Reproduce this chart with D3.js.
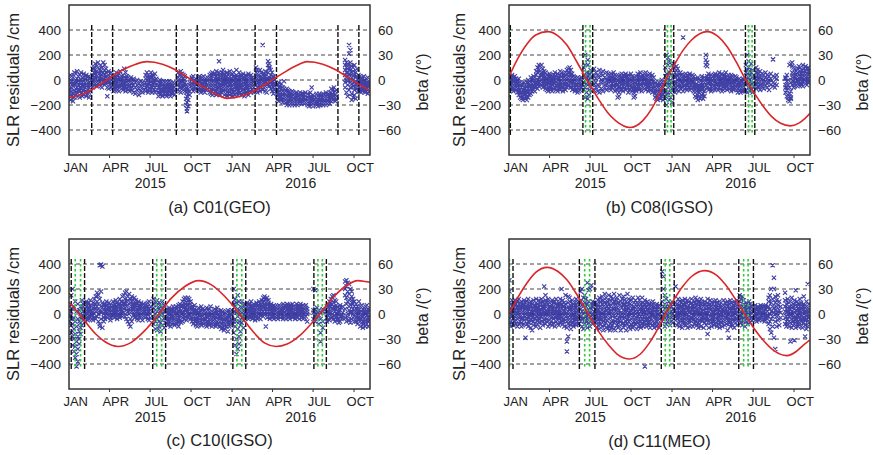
<!DOCTYPE html>
<html><head><meta charset="utf-8">
<script src="https://cdn.jsdelivr.net/npm/d3@7"></script>
<style>
body{margin:0;background:#fff}
svg{display:block}
text{font-family:"Liberation Sans",Arial,Helvetica,sans-serif;fill:#222}
</style>
</head><body>
<svg id="fig" width="873" height="455"></svg>
<script>
// Days are counted from 2015-01-01. Residual rows: [day, residual cm, residual cm, ...]
const residualsC01 = [
[0,-40,-100,10,-150,-70],[3,-20,-120,40,-80,-160],[6,-60,-10,-130,30,-90],[9,20,-50,-110,-170,-30],
[12,-30,60,-90,-10,-140],[15,-70,0,50,-120,-40],[18,10,-60,-100,70,-20],[21,-40,30,-130,-80,-10],
[24,-90,-20,40,-60,-140],[27,0,-70,60,-110,-30],[30,-50,20,-100,-20,-130],[33,-10,50,-80,-40,-120],
[36,-60,10,-100,30,-20],[39,-30,-90,40,-50,-130],[42,20,-40,-80,0,-110],[45,-20,-60,30,-100,-140],
[48,-50,10,-90,-30],[53,40,-10,-60,90,0],[56,100,20,-40,60,-20],[59,130,50,-30,10,80],
[62,70,-20,30,-50,110],[65,20,60,-30,-10,140],[68,-40,10,50,90,-20],[71,30,-50,0,70,120],
[74,0,-30,40,100,-60],[77,60,10,-20,140,30],[80,-10,40,80,-40,120],[83,20,-30,60,0,90],
[86,-60,10,30,-20,-130],[89,-20,40,0,-70,70],[92,10,-40,50,-10],[95,-30,20,-60,60],
[100,-20,30,-60,10,-90],[103,0,-40,40,-80,-20],[106,-50,20,-10,60,-70],[109,10,-30,-80,30,-50],
[112,-40,0,50,-90,-20],[115,-10,-60,20,-30,70],[118,-70,30,-20,-50,0],[121,-20,-80,10,40,-40],
[124,20,-50,90,-10,-60],[127,-30,10,-70,60,-90],[130,-60,-20,30,-40],[133,0,-80,-30,20],
[136,-50,10,-90,-20],[139,-30,-70,20,-10],[142,-80,-20,0,-60],[145,-40,-100,10],
[149,-20,-60,-110],[153,0,-80,-40],[157,-70,-30,-120],[161,-10,-90,-50],[165,-60,-20,-100],[169,-30,-80],
[172,40,-20,-60,10,-90],[175,-40,60,0,-80,20],[178,10,-50,-100,40,-20],[181,-30,30,-70,0,-90],
[184,60,-10,-50,20,-80],[187,-60,0,40,-30,-100],[190,-20,30,-80,-40,10],[193,0,-60,-20,50,-100],
[196,-40,-90,10],[201,-60,-100,-20,-130,-40],[204,-80,-30,-120,-60,0],[207,-50,-110,-10,-90,-70],
[210,-90,-40,-130,-60,-20],[213,-30,-70,-110,-10,-80],[216,-100,-50,-20,-120,-60],[219,-60,-130,-30,-90,-10],
[222,-80,-40,-110,-60,-20],[225,-40,-100,-70,-120,-10],[228,-90,-20,-60,-130,-50],[231,-50,-110,-80,-30],
[234,-70,-20,-100,-40],[237,-30,-90,-60,-120],[245,20,-40,60,-80,-10],[248,-20,40,-60,10,-90],
[251,-50,0,70,-30,-100],[254,30,-70,-10,50,-40],[257,-30,10,-80,40,-60],[260,0,-50,30,-90,-20],
[263,-100,-150,-60,-200,-40],[265,-130,-250,-180,-80,-230],[268,-70,-160,-110,-210],[271,-40,-90,-20,-120],
[276,-30,10,-70,-50,20],[279,-60,-10,-90,30,-40],[282,-20,-80,0,-50],[285,10,-40,-70,-20],
[290,-50,0,-80,20,-30],[293,-20,-60,30,-90,-10],[296,-70,-30,10,-50,-100],[299,0,-40,-80,20,-20],
[302,-60,-10,-90,-40,30],[305,-30,-70,0,-50,-100],[308,-80,-20,10,-60],[311,-40,20,-70,-10],
[316,-20,40,-60,0,-100,20],[319,10,-50,-110,50,-30,-80],[322,-60,30,-20,-90,60,-120],[325,-30,0,-70,40,-110,-10],
[328,50,-40,-90,10,-20,-60],[331,-10,-70,30,-120,0,70],[334,-50,20,-30,-100,40,-80],[337,0,-60,150,-20,60,-110],
[340,-80,10,-40,30,-120,-10],[343,20,-20,-70,60,-100,-50],[346,-40,40,0,-90,-30,80],[349,-70,-10,50,-120,10,-50],
[352,10,-80,-30,30,-60,-110],[355,-20,60,-100,-50,0,-130],[358,-60,0,40,-80,-20,-110],[361,30,-40,-90,-10,70,-120],
[364,-30,10,-60,-110,40,-80],[367,-80,-20,50,0,-50,-130],[370,0,-60,-100,30,-30,60],[373,-50,20,-20,-90,-120,10],
[376,-10,-70,40,-40,-100,80],[379,-90,-30,10,-60,-120,30],[382,20,-50,-80,0,60,-110],[385,-40,0,-70,40,-20,-100],
[388,-60,30,-10,-120,-40,10],[391,-20,-80,50,-50,0,-100],[394,10,-40,-90,20,-60,-130],[397,-70,-10,40,-30,-110,0],
[400,-30,30,-60,-100,10,-50],[403,0,-80,-20,50,-120,-40],[406,-50,10,-90,-30,30],[409,-20,-60,0,-100,40],
[412,-80,-30,20,-50],[415,-10,-60,-100,10],[420,20,-40,60,-80,0,100],[423,-20,50,-60,10,-100,80],
[426,40,-10,-70,20,-40],[429,-50,10,80,-30,-90],[432,0,-60,30,-20,60],[435,280,-30,20,-80,40],
[438,-60,0,50,-40,10],[441,30,-20,-90,70,-50],[444,-40,10,-10,-100,40],[447,120,150,60,-30,10],
[450,90,130,20,-50,100],[453,-20,40,0,-70,80],[456,10,-40,60,-90,-10],[459,-60,20,-30,-110,30],[462,-30,0,-80,-50],
[468,-80,-120,-40,-160,-100],[471,-60,-140,-100,-20,-170],[474,-110,-50,-150,-90,-130],[477,-70,-130,-30,-100,-160],
[480,-120,-60,-180,-90,-140],[483,-10,-100,-150,-70,-130],[486,-140,-90,-180,-110,-160],[489,-100,-170,-130,-70,-200],
[492,-160,-110,-190,-140,-80],[495,-120,-180,-90,-150,-200],[498,-170,-130,-100,-190,-150],[501,-110,-160,-200,-130,-90],
[504,-150,-190,-120,-170,-100],[507,-180,-130,-160,-110,-200],[510,-140,-100,-170,-190,-120],[513,-160,-120,-200,-140,-180],
[516,-110,-150,-190,-130,-170],[519,-170,-140,-100,-180,-120],[522,-130,-190,-150,-110,-160],[525,-160,-110,-180,-140],
[528,-120,-170,-140,-190],[531,-150,-100,-130],[536,-140,-180,-110,-200],[539,-170,-120,-210,-150],
[542,-130,-190,-160,-100],[545,-160,-200,-140,-60],[548,-120,-170,-190,-210],[551,-150,-180,-130],
[556,-140,-170,-200,-110,-180],[559,-180,-130,-160,-210,-150],[562,-110,-170,-200,-140,-190],[565,-160,-120,-180,-150,-200],
[568,-190,-140,-170,-120,-160],[571,-130,-200,-150,-180,-110],[574,-170,-120,-190,-140,-160],[577,-150,-180,-100,-200,-130],
[580,-120,-160,-140,-190,-170],[583,-180,-130,-110,-150],[586,-100,-160,-190,-130],[589,-140,-70,-120,-170],
[592,-110,-160,-80,-140],[595,-150,-100,-130,-60],[598,-90,-140,-120,-170],[601,-130,-80,-160],
[620,120,40,-20,80,-60,160],[623,60,140,0,-100,100,20],[626,-40,90,30,-130,130,-10],[629,280,210,100,-80,50,0],
[632,240,80,-20,140,-60,30],[635,20,110,-110,60,-30,-160],[638,-50,70,0,-140,100,30],[641,40,-80,120,-20,-120],
[644,-10,60,-60,20,-150],[647,-70,30,-30,90,-100],[650,-20,-60,10,-90,40],[653,-40,0,-80,-20,30],
[656,-10,-70,-40,20,-100],[659,-60,10,-30,-90,-50],[662,-20,-80,30,-50,-10],[665,-70,-30,0,-100,-40],
[668,-40,10,-60,-90,-20],[671,-80,-30,-50,20,-110],[674,-50,-10,-90,-30]
];
const residualsC08 = [
[1,-20,20,-60,-90,10],[4,0,-40,30,-70,-10],[7,-50,10,-30,-80,40],[10,-10,-60,20,-40,-90],
[13,30,-30,-70,0,-50],[16,-40,10,-20,-80,-60],[19,-70,-10,-100,-40,0],[22,-30,-90,-60,-120,10],
[25,-80,-20,-110,-50,-140],[28,-100,-60,-150,-30,-120],[31,-130,-80,-40,-160,-100],[34,-60,-140,-100,-20,-120],
[37,-110,-70,-150,-40,-90],[40,-90,-130,-50,-160,-20],[43,-40,-100,-70,-140,0],[46,-80,-30,-120,-60,-10],
[49,-20,-70,-110,-50,20],[52,-50,0,-90,-30,-70],[55,10,-40,-80,-20,30],[58,-30,20,-60,0,-90],
[61,40,-10,-50,70,-30],[64,0,60,-40,100,-70],[67,80,20,-20,120,-50],[70,110,40,-10,70,-30],
[73,60,120,0,-40,30],[76,20,90,-30,50,-60],[79,-10,40,70,-50,0],[82,30,-20,60,-70,10],
[85,-40,10,-80,40,-20],[88,0,-60,30,-30,-90],[91,-30,20,-70,50,-10],[94,10,-50,-20,40,-80],
[97,-60,0,30,-40,-90],[100,-20,40,-70,-10,20],[103,20,-30,60,-60,0],[106,-40,10,-80,30,-20],
[109,0,50,-50,-90,20],[112,-30,20,-70,10,-60],[115,40,-10,-40,70,-80],[118,-20,30,0,-60,60],
[121,10,-50,40,-30,-90],[124,50,-20,20,-70,0],[127,-10,60,-40,30,-80],[130,80,20,-30,50,-60],
[133,30,90,-10,60,-50],[136,60,0,100,-40,20],[139,-20,40,80,-60,10],[142,20,-40,50,-80,-10],
[145,-30,10,-70,30,-50],[148,0,-60,20,-90,-20],[151,-50,-10,-80,10,-40],[154,-20,20,-60,-100,0],
[157,-70,-30,10,-50,-90],[160,-40,0,-80,-20],[163,-10,-60,20,-40],
[168,40,-20,-80,100],[171,200,-60,20,-140,120],[174,-30,60,-100,10],[177,120,-150,-40,30,160],
[180,0,-80,50,-120],[183,-50,80,-20,20],[186,20,-90,-40,60],[191,-30,30,-80,90],[195,10,-60,60,-20],
[199,-90,40,-40],[203,20,-50,80,-100],[207,-20,50,-70,0],[211,40,-10,-90,70],[215,-40,20,-60],[219,0,60,-30,-80],
[223,30,-20,50,-60,0],[226,-10,40,-50,10,-70],[229,20,-40,-10,50,-80],[232,-30,10,40,-60,0],
[235,0,-50,30,-20,60],[238,-60,20,-30,40,-90],[241,10,-20,-70,30,-40],[244,-40,0,-140,-80,20],
[247,-100,-20,30,-60,-130],[250,-10,40,-50,0,-80],[253,20,-30,50,-70,-10],[256,-50,10,-20,40,-90],
[259,0,-60,30,-40,20],[262,-30,50,-10,-80,10],[265,30,-40,0,-70,-20],[268,-20,20,-60,40,-100],
[271,10,-50,30,-30,-80],[274,-60,0,-20,50,-40],[277,-30,30,-90,-10,-60],[280,-100,-140,-40,10,-70],
[283,-130,-80,-20,20,-50],[286,-40,10,-60,30,-90],[289,0,-30,50,-70,20],[292,-20,40,-50,0,-80],
[295,30,-10,-40,60,-60],[298,-50,20,-20,-90,10],[301,10,-60,40,-30,-10],[304,-30,0,50,-70,30],
[307,20,-40,-10,60,-80],[310,-60,10,-30,30,-20],[313,0,-50,40,-90,20],[316,-20,30,-70,-10,50],
[319,-40,0,-80,20,-60],[322,10,-30,-100,40,-50],[325,-70,-10,-40,20,-90],[328,-60,-110,-20,-140,-80],
[331,-100,-40,-150,-70,-120],[334,-30,-90,-130,-60,-160],[337,-120,-50,-100,-140,-20],[340,-80,-150,-40,-110,-60],
[343,-20,-100,-70,-130,0],[346,-90,-40,-120,-60,-160],
[351,100,-40,-150,30,-90],[354,-120,200,-20,50,-200],[357,120,-60,180,-100,10],[360,-30,60,-160,-50,150],
[363,40,-100,0,-140,80],[366,-70,120,-20,-180],
[370,30,100,-40,130,-80],[373,-10,60,-60,20,-100],[376,80,-30,40,-80,110],[379,0,-50,90,-20,30],
[382,-60,20,-90,50,-10],[385,10,-40,60,-70,-20],[388,-30,20,-50,0,40],[391,340,-10,30,-60,-90],
[394,-20,40,-70,10,-40],[397,20,-30,50,-60,0],[400,-50,10,-20,40,-80],[403,0,-60,30,-40,-10],
[406,-30,20,-80,50,-60],[409,30,-40,0,-70,10],[412,-10,40,-60,-20,20],[415,-60,-20,30,-90,-40],
[418,-40,-100,10,-60,-130],[421,-90,-30,-140,-60,0],[424,-50,-120,20,-80,-160],[427,10,-70,-130,-40,-100],
[430,-30,-90,-150,0,-60],[433,-80,-20,-120,30,-50],[436,-110,-40,10,-150,-70],[439,-60,20,-90,-20,-130],
[442,200,160,120,-40,10],[445,110,140,-60,30,-20],[448,-10,50,-80,-30,20],[451,30,-40,0,-70,-10],
[454,-50,10,-20,40,-90],[457,0,-60,30,-30,-80],[460,-20,40,-50,10,-70],[463,20,-30,-80,50,0],
[466,-40,10,-60,-10,30],[469,0,-50,40,-80,-20],[472,-60,20,-30,60,-10],[475,30,-10,-70,0,-40],
[478,-20,50,-40,-90,10],[481,10,-60,30,-20,-80],[484,-40,0,-70,40,-30],[487,20,-30,60,-50,-10],
[490,-50,10,-20,-80,30],[493,0,-40,40,-60,-20],[496,-30,20,-70,10,-50],[499,40,-10,-40,0,-90],
[502,-20,30,-60,-30,10],[505,-60,0,20,-80,-40],[508,10,-50,-20,30,-70],[511,-40,-10,-80,20,-60],
[514,-20,-70,0,-40,-100],[517,-80,-30,10,-60,-20],[520,-50,-100,-30,0,-70],[523,-10,-60,-90,-40,-20],
[526,-70,-30,-50,10,-90],
[532,60,-40,120,-80,10],[535,200,-20,50,-100,80],[538,-60,150,20,-30,100],[541,40,-90,0,70,-50],
[544,-30,130,60,-10,-70],[547,80,-50,20,-100,30],[550,-20,40,-60,10],
[555,60,-30,20,100,-70],[558,-10,40,-50,80,10],[561,30,-60,0,50,-20],[564,-40,20,70,-80],
[568,10,-30,50,-50],[572,-20,40,0,-70],[576,60,-40,20,-10],[580,-60,10,-30,40],[584,0,30,-20,-80],
[588,-40,10,50],[593,165,-20,30,-50],[597,-30,20,-60],[601,10,-40,40],
[621,20,-40,-100,10,-60],[624,-60,-10,-130,40,-80],[627,-120,-160,-40,0,-140],[630,-170,-130,-110,120,-60],
[633,-150,-90,130,-20,-140],[636,140,110,20,-40,60],[639,100,-10,50,-60,30],[642,-30,60,10,-50,90],
[645,20,-40,70,-20,40],[648,60,0,-30,90,-50],[651,-10,40,110,-40,20],[654,30,-20,70,0,100],
[657,-40,50,10,-30,80],[660,20,-10,60,120,-50],[663,90,30,-20,50,0],[666,-30,70,20,110,-10],
[669,50,0,90,-40,30],[672,10,70,-20,40,100],[675,60,-10,30,80]
];
const residualsC10 = [
[2,60,-20,30,-60,-10],[5,-40,20,-90,150,-150],[8,200,-80,-180,40,-250],[11,-120,-300,60,-200,-30],
[14,-350,-60,100,-160,-260],[17,-420,-100,20,-220,-320],[20,-40,-280,-180,80,-380],[23,-140,-240,30,-60,-200],
[26,0,-110,-160,60,-70],[29,-30,40,-90,110,-20],[32,80,-50,20,-10,60],[36,40,-20,90,0,-60],
[39,10,60,-30,100,30],[42,-20,40,80,0,-50],[45,50,-10,20,90,-40],[48,0,70,-30,30,110],
[51,30,-40,60,10,-20],[54,-10,50,90,-50,20],[57,60,0,120,30,-30],[60,20,-40,80,140,40],
[63,100,30,-20,60,170],[66,-60,40,150,0,80],[69,390,120,-80,30,-100],[72,395,60,-40,10,180],
[75,380,90,-110,20,50],[78,30,-30,70,0,-60],[81,-10,50,20,-40,80],[84,40,-20,60,0,100],
[87,10,70,-30,30,-10],[90,50,0,90,-20,20],[93,-30,40,10,70,-50],[96,20,60,-10,30,0],
[99,70,-20,40,10,100],[102,0,50,-30,80,20],[105,30,-10,60,0,110],[108,-20,40,10,90,-40],
[111,50,0,70,20,-10],[114,10,80,-30,40,120],[117,60,20,100,-10,40],[120,30,70,0,140,-20],
[123,90,40,150,10,60],[126,50,120,-20,80,170],[129,100,30,180,60,-40],[132,20,140,70,-60,110],
[135,80,-80,160,40,0],[138,-100,120,30,90,-40],[141,60,-60,100,20,140],[144,110,40,-10,80,60],
[147,20,70,130,0,-30],[150,90,-20,50,30,110],[153,40,80,0,-40,60],[156,-10,50,100,20,-50],
[159,60,10,-30,70,30],[162,20,-20,40,90,0],[165,70,30,-50,10,50],[168,0,60,-20,40,80],
[171,40,-30,20,70,-10],[174,-20,50,10,80,30],[177,60,0,90,-40,20],[180,20,-50,40,100],[183,-30,60,0,30],
[190,50,-80,120,-30,80],[194,-120,30,100,-60,0],[198,70,-40,20,-130,110],[202,-20,90,-100,40,-60],
[206,30,-70,60,-10,-140],[210,-50,100,0,-90,50],[214,20,-30,70,-110],
[219,-30,20,-70,40,-50],[222,0,-60,30,-90,-20],[225,-40,10,-80,50,-10],[228,20,-50,-20,-100,30],
[231,-60,0,40,-30,-80],[234,-10,-70,20,-50,60],[237,30,-40,-90,0,-20],[240,-50,10,-30,60,-70],
[243,0,-80,40,-20,-60],[246,-30,20,-60,70,-100],[249,40,-10,-50,10,80],[252,-20,60,0,-70,30],
[255,70,-30,20,100,-60],[258,10,90,-40,50,120],[261,80,130,30,-20,60],[264,120,40,-50,90,10],
[267,20,110,70,-30,130],[270,90,-10,50,120,0],[273,40,80,-40,20,100],[276,-20,60,10,-60,30],
[279,50,-30,-80,20,-10],[282,0,40,-60,-20,70],[285,-40,20,-90,10,-60],[288,30,-50,0,-100,-20],
[291,-70,10,-30,50,-90],[294,-10,-60,30,-40,-80],[297,20,-30,-90,0,60],[300,-50,10,-20,-70,40],
[303,-80,-30,20,-60,0],[306,10,-90,-40,30,-70],[309,-20,50,-60,-10,-100],[312,-60,0,30,-80,-30],
[315,40,-40,-10,-90,20],[318,-30,10,-70,60,-50],[321,0,-60,20,-100,-20],[324,-90,-30,-70,10,-50],
[327,-40,20,-80,-10,40],[330,-70,-20,30,-100,0],[333,10,-60,-30,50,-90],[336,-50,0,-80,-20,20],
[339,-20,-100,10,-60,-40],[342,30,-50,-80,0,-120],[345,-60,-10,-110,20,-30],[348,-90,-40,0,-70,-130],
[351,-30,-120,10,-60,-80],[354,-100,-50,20,-20,-70],[357,-10,-80,-140,-40,30],[360,-60,10,-30,-100,-20],
[363,20,-40,-70,0,-90],[366,-50,-10,30,-60],
[370,200,-60,80,-150,20],[373,-40,120,-250,60,-100],[376,90,-200,10,-320,-60],[379,-120,40,-20,-280,150],
[382,30,-180,-60,100,-240],[385,-90,60,0,-140,20],[388,50,-30,100,-70],[392,-50,20,-110,70,0],[396,10,80,-40,-20,40],
[400,30,-20,60,0,90],[403,-10,50,20,-40,70],[406,40,0,80,-30,20],[409,10,60,-20,40,100],
[412,70,-10,30,0,-40],[415,20,50,-30,80,10],[418,-20,40,60,0,-50],[421,50,10,90,-20,30],
[424,0,70,-40,20,60],[427,30,-30,50,0,100],[430,-10,80,20,60,-40],[433,60,0,40,110,10],
[436,20,90,-20,50,130],[439,100,40,140,0,70],[442,-100,60,120,20,90],[445,50,130,10,80,-30],
[448,90,20,60,-20,110],[451,30,70,0,40,-40],[454,-20,50,20,80,0],[457,60,10,-30,30,50],
[460,10,40,-10,70,-40],[463,40,-20,60,0,20],[466,-30,30,10,50,-10],[469,20,60,-40,0,40],
[472,50,0,30,-20,70],[475,-10,40,10,60,-30],[478,30,-20,50,0,20],[481,0,60,-40,30,80],
[484,40,10,-10,70,20],[487,-20,50,30,-40,0],[490,60,0,40,-10,80],[493,20,-30,60,10,40],
[496,-10,40,0,70,-40],[499,30,70,-20,20,50],[502,0,50,10,-30,80],[505,40,-10,60,20,-20],
[508,10,30,-40,50,0],[511,60,-20,20,80,40],[514,-30,40,0,60,10],[517,20,70,-10,30,-40],
[520,50,0,40,80,20],[523,-20,60,10,-30,30],[526,30,-40,70,0,50],[529,0,40,20,60,-30],
[532,50,10,-20,30,70],[535,-60,20,40,0],
[549,200,10,-40,30],[553,190,-20,40,-60],[557,0,50,-30,20],[561,-80,30,-10],[565,-150,-220,10,-40],[570,-60,20,-110,40],
[579,20,-30,60,0,-60],[582,50,-10,80,20,-40],[585,0,100,-50,40,70],[588,60,120,10,-30,90],
[591,-20,40,140,80,0],[594,90,30,150,-40,60],[597,50,-60,110,20,-10],[600,-30,70,0,40,100],
[603,20,-50,60,-20],[606,-70,10,40,-40],[609,30,-20,-60,70],[612,-40,0,50,-10],[615,10,-30,60],
[620,260,150,40,-30,200],[623,220,80,270,-60,130],[626,180,250,0,100,-20],[629,240,60,160,-50,30],
[632,120,200,-70,70,10],[635,20,140,-40,90,180],[638,80,-30,40,120,0],[641,-20,60,100,-60,30],
[645,40,-30,80,-60,10],[648,-10,60,-80,20,-40],[651,30,-50,0,100,-20],[654,-60,10,60,-30,-100],
[657,20,-40,70,0,-70],[660,-20,40,-60,10,-110],[663,50,-10,-80,30,-40],[666,0,60,-50,-100,20],
[669,-40,20,-10,70,-80],[672,10,-60,40,-30,-100],[675,-20,30,-50]
];
const residualsC11 = [
[1,270,180,40,-30,90,-80],[4,20,-60,80,0,-100,50],[7,-20,60,110,-70,30,0],[10,50,-40,10,90,-90,-10],
[13,-60,30,-20,70,110,0],[16,80,-10,40,-80,20,-50],[19,0,100,-40,60,-100,30],[22,-30,50,-80,10,120,-10],
[25,40,-60,90,-20,20,70],[28,-70,10,60,-40,100,-100],[31,20,-30,80,0,-90,50],[34,-50,110,30,-10,70,-80],
[37,-190,60,-20,40,0,90],[40,30,-80,10,100,-40,60],[43,-20,50,-60,20,120,-100],[46,70,0,-30,90,-70,40],
[49,-10,-110,60,20,-50,100],[52,-130,40,0,80,-30,10],[55,50,-60,110,-20,30,-90],[58,-40,20,70,-80,0,60],
[61,90,-20,40,-100,10,120],[64,0,60,-50,30,-80,80],[67,-70,110,20,-30,50,-10],[70,40,-40,90,0,-110,70],
[73,-20,80,10,-60,120,30],[76,60,-90,-10,50,0,100],[79,220,20,-50,80,-20,40],[82,-30,150,60,-80,10,110],
[85,10,-60,90,30,-40,70],[88,80,-10,40,-100,120,0],[91,-50,60,0,20,-80,90],[94,30,-30,100,-60,50,10],
[97,-90,70,-20,40,0,110],[100,60,-40,20,-70,90,-10],[103,-20,100,50,0,-100,30],[106,40,-60,80,-30,10,120],
[109,-80,20,60,-10,-50,70],[112,10,90,-40,40,-90,0],[115,120,-20,70,-70,30,-10],[118,-50,40,0,200,-30,80],
[121,30,-80,110,10,-60,60],[124,-10,60,-40,90,-100,20],[127,80,0,150,-50,40,-20],[130,-110,-220,-300,50,-60,10],
[133,140,-30,90,-80,20,-180],[136,-60,40,-10,100,-40,130],[139,20,-90,60,0,-120,70],[142,-40,110,30,-70,10,-20],
[145,60,-10,-50,80,-100,0],[148,-80,30,90,-30,50,-60],[151,10,-40,70,-90,120,20],[154,-20,60,0,-60,30,90],
[157,50,-30,100,-10,-80],
[161,100,-60,40,-20,180],[164,-100,20,200,-40,70],[167,60,-30,-120,130,0],[170,-50,90,20,-80,150],
[173,10,-60,60,120,-20],[176,250,-40,80,0,-110],[179,30,190,-70,100,-10],[182,-60,50,10,-100,200],
[185,80,-20,230,40,-50],[188,-30,60,0,-80,100],[191,20,-50,90,-20],
[194,40,-30,90,-70,10,60],[197,-60,20,-110,50,-20,80],[200,0,70,-40,110,-90,30],[203,-30,50,130,-60,10,-120],
[206,60,-80,20,-10,100,-50],[209,-100,30,-40,80,0,140],[212,20,-60,60,-130,110,-10],[215,-40,90,10,-90,50,160],
[218,80,-20,130,-70,30,-110],[221,-10,60,-120,100,-50,10],[224,150,-40,40,-100,80,0],[227,-80,20,110,-30,60,-130],
[230,30,-110,70,10,-60,140],[233,-50,90,-20,120,0,-90],[236,100,-70,40,-10,160,-120],[239,-30,60,-130,80,20,-60],
[242,10,-90,110,-40,50,130],[245,-110,40,0,90,-70,20],[248,70,-30,150,-100,30,-50],[251,-60,100,10,-130,60,-10],
[254,120,-20,50,-80,0,90],[257,-40,30,-110,70,140,-70],[260,20,-90,80,-30,110,0],[263,-130,60,-10,100,-60,40],
[266,90,0,-80,30,-40,160],[269,-20,120,50,-100,10,-60],[272,60,-50,-10,80,-120,30],[275,-90,20,110,-40,70,0],
[278,40,-70,10,130,-30,-110],[281,-10,90,-60,40,-100,60],[284,110,-30,20,-80,50,0],[287,-60,60,-120,10,90,-40],
[290,20,-20,80,-70,130,-100],[293,-40,40,-90,110,0,60],[296,80,-60,20,-20,-110,50],[299,130,-40,60,0,-80,30],
[302,-20,90,-60,40,-100,10],[305,-420,20,-30,70,-70,110],[308,50,-50,0,90,-20,-100],[311,-70,30,100,-40,60,-10],
[314,10,-90,50,-20,80,-60],[317,-30,60,-80,20,-110,40],[320,90,0,-50,70,-10,30],[323,-60,40,-20,100,-90,10],
[326,20,-30,60,-70,0,-110],[329,-80,70,10,-40,50,-10],[332,40,-20,-100,30,-60,80],[335,-10,60,0,-80,20,-50],
[338,50,-40,-110,10,70,-20],
[344,340,20,-60,100,-20],[347,300,-40,60,0,200],[350,-30,150,-100,40,80],[353,60,-20,10,-80,120],
[356,-10,40,-60,20],[359,100,-50,30,-10,60],[362,-40,0,80,-90],[365,20,-30,60,-60],[368,-70,40,0,90],
[374,220,30,-50,90,-20,60],[377,-40,80,10,-90,50,0],[380,60,-20,120,30,-70,-10],[383,-30,40,-100,70,10,100],
[386,90,0,50,-60,-20,30],[389,-70,110,20,-30,60,-110],[392,10,-50,80,0,-80,40],[395,-20,70,-40,120,30,-60],
[398,50,-90,10,-10,90,-30],[401,-60,30,-110,60,0,110],[404,100,-20,40,-70,70,10],[407,-30,80,-50,20,-100,50],
[410,0,-60,120,-30,40,90],[413,70,-100,30,-10,60,-50],[416,-40,50,-80,100,10,-20],[419,20,-30,130,-60,80,0],
[422,-90,60,0,40,-40,110],[425,30,-70,90,-10,20,-110],[428,-20,100,-50,60,-80,10],[431,80,0,40,-100,120,-30],
[434,-50,70,-20,20,-60,90],[437,10,-110,60,-40,30,0],[440,-30,50,100,-70,-10,80],[443,60,-20,10,-90,40,-50],
[446,-160,90,-40,30,0,120],[449,20,-60,70,-110,50,-10],[452,-50,30,-20,80,-70,110],[455,90,-30,40,0,-100,60],
[458,-10,80,-60,20,-40,10],[461,40,-90,100,-20,60,-60],[464,-70,20,0,110,-30,50],[467,30,-40,70,-100,10,90],
[470,-20,60,-80,40,-10,-60],[473,100,0,20,-50,70,-110],[476,-40,50,-20,90,-70,10],[479,60,-100,30,-30,40,0],
[482,-10,70,-60,110,-40,20],[485,30,-30,90,0,-90,60],[488,-80,40,-10,70,10,-40],[491,-130,20,-50,100,-20,60],
[494,-190,-70,40,0,80,-30],[497,50,-20,110,-60,10,-100],[500,-30,60,0,30,-80,90],[503,20,-50,70,-10,40,-90],
[506,-60,10,-30,100,-110,50],[509,80,-40,30,-70,0,60],[512,-10,50,-90,20,-40,110],
[518,150,-50,60,-10,100],[521,-30,120,20,-70,50],[524,60,-90,0,140,-20],[527,-60,30,110,-40,80],
[530,20,-20,60,-100,0],[533,-40,90,10,-60,40],[536,70,-10,-80,30,-30],[539,-20,50,0,-50,100],
[542,40,-70,20,80,-10],[545,-50,10,60,-30],
[550,20,-40,60,-10,40],[553,-30,50,0,-50,70],[556,40,-20,30,-60,10],[559,-10,60,-40,20,-30],
[562,50,0,-50,40,-20],[565,-40,30,70,-10,10],[568,10,-50,40,-30,60],[571,-20,60,0,-40,30],
[574,60,-10,-60,20,-30],[577,-30,40,10,-50,70],[580,20,-20,50,-10],
[583,60,-80,130,-20,100],[586,-120,40,150,-60,0],[589,200,-40,90,-150,20],[592,390,120,-20,60,-100],
[595,290,200,-190,50,10],[598,140,-60,90,-280,30],[601,-20,110,0,-100,60],[604,70,-50,150,20,-10],
[607,-90,30,100,-40],[610,10,-30,60],
[620,170,-30,60,-80,20,110],[623,-60,40,-100,10,80,-20],[626,30,-90,120,-40,50,0],[629,-100,60,-20,90,-60,20],
[632,-220,10,-70,40,-10,100],[635,50,-40,130,-110,20,-20],[638,-30,80,0,-60,60,-90],[641,-210,-30,40,110,-80,10],
[644,190,-50,70,-20,30,-110],[647,-10,60,-80,20,100,-40],[650,40,-100,10,80,-30,-60],[653,-70,30,-20,120,0,60],
[656,20,-60,90,-40,50,-100],[659,-40,10,-110,60,-10,30],[662,80,-30,40,-70,140,0],[665,-180,50,-50,20,-90,70],
[668,10,-120,60,-20,100,-40],[671,240,-60,30,-100,0,50],[674,-30,80,-70,20,-10]
];

// Sun elevation above the orbital plane: [day, beta in degrees]
const betaC01 = [[0,-21],[30,-17],[60,-9],[90,2],[120,12],[150,19],[175,22],[210,19],[240,12],[270,2],[300,-8],[330,-17],[355,-22],[390,-19],[420,-12],[450,-2],[480,8],[510,17],[535,22],[570,19],[600,12],[630,2],[660,-8],[676,-13]];
const betaC08 = [[0,4],[20,26],[40,43],[60,54],[87,58],[110,53],[130,42],[150,24],[175,0],[200,-22],[220,-38],[240,-49],[272,-57],[300,-49],[320,-35],[340,-14],[352,0],[370,17],[390,35],[410,48],[445,58],[470,52],[490,40],[510,22],[532,0],[550,-15],[570,-31],[590,-44],[610,-52],[632,-55],[650,-52],[665,-46],[676,-40]];
const betaC10 = [[0,14],[23,0],[60,-24],[80,-33],[110,-39],[140,-34],[170,-20],[202,0],[230,19],[260,33],[291,40],[320,35],[350,21],[383,0],[410,-19],[440,-35],[465,-39],[490,-36],[520,-25],[545,-11],[563,0],[590,18],[620,33],[649,40],[665,39],[676,38]];
const betaC11 = [[0,0],[20,20],[40,37],[60,50],[86,56],[110,51],[130,41],[155,21],[178,0],[200,-20],[225,-38],[245,-49],[271,-54],[295,-48],[315,-35],[335,-17],[351,0],[370,17],[390,33],[410,45],[439,52],[465,47],[485,36],[507,19],[529,0],[550,-17],[570,-31],[595,-44],[624,-50],[645,-45],[660,-38],[676,-31]];

// Eclipse season boundaries (black) and yaw-manoeuvre days (green), as day numbers
const boundsC01 = [51,98,241,288,418,466,604,651];
const yawC01 = [];
const boundsC08 = [3,166,188,350,370,531,552];
const yawC08 = [1,172,182,356,364,538,546];
const boundsC10 = [5,35,188,217,368,397,550,578];
const yawC10 = [14,26,197,208,377,388,559,569];
const boundsC11 = [9,158,193,342,371,516,549];
const yawC11 = [1,170,181,351,361,527,537];

const residualTicks = [-400,-200,0,200,400];
const betaTicks = [-60,-30,0,30,60];
const monthNames = ["JAN","APR","JUL","OCT"];
const years = [2015,2016];

const panels = [
  {title:"(a) C01(GEO)", rows:residualsC01, beta:betaC01, bounds:boundsC01, yaw:yawC01, x0:69, y0:5, ylab:18.5, tb:213},
  {title:"(b) C08(IGSO)", rows:residualsC08, beta:betaC08, bounds:boundsC08, yaw:yawC08, x0:509, y0:5, ylab:464.5, tb:213},
  {title:"(c) C10(IGSO)", rows:residualsC10, beta:betaC10, bounds:boundsC10, yaw:yawC10, x0:69, y0:239, ylab:18.5, tb:446},
  {title:"(d) C11(MEO)", rows:residualsC11, beta:betaC11, bounds:boundsC11, yaw:yawC11, x0:509, y0:239, ylab:464.5, tb:447}
];

const W = 301, H = 150;
const t0 = Date.UTC(2015,0,1);
const dayDate = d => new Date(t0 + d*864e5);
const x = d3.scaleUtc().domain([dayDate(0), dayDate(676)]).range([0, W]);
const y = d3.scaleLinear().domain([-600, 600]).range([H, 0]);
const yb = d3.scaleLinear().domain([-90, 90]).range([H, 0]);

const svg = d3.select("#fig");
const defs = svg.append("defs");
const FONT = "Liberation Sans, Arial, sans-serif";

panels.forEach((p, i) => {
  const g = svg.append("g").attr("transform", `translate(${p.x0},${p.y0})`);
  defs.append("clipPath").attr("id", "clip" + i)
    .append("rect").attr("width", W).attr("height", H);
  const plot = g.append("g").attr("clip-path", `url(#clip${i})`);

  // horizontal dashed grid
  plot.selectAll("line.grid").data(residualTicks).join("line")
    .attr("x1", 0).attr("x2", W)
    .attr("y1", d => y(d)).attr("y2", d => y(d))
    .attr("stroke", "#444").attr("stroke-width", 1).attr("stroke-dasharray", "4,3");

  // residual crosses
  const pts = [];
  p.rows.forEach(r => r.slice(1).forEach(v => pts.push([r[0], v])));
  const s = 2.1;
  let dpath = "";
  pts.forEach(([d, v]) => {
    const px = x(dayDate(d)), py = y(v);
    dpath += `M${px-s},${py-s}L${px+s},${py+s}M${px-s},${py+s}L${px+s},${py-s}`;
  });
  plot.append("path").attr("d", dpath)
    .attr("fill", "none").attr("stroke", "#2c2c9c").attr("stroke-width", 1.2).attr("stroke-opacity", 0.9);

  // yaw lines (green) and season boundaries (black)
  plot.selectAll("line.yaw").data(p.yaw).join("line")
    .attr("x1", d => x(dayDate(d))).attr("x2", d => x(dayDate(d)))
    .attr("y1", y(440)).attr("y2", y(-440))
    .attr("stroke", "#2fcc3a").attr("stroke-width", 1.6).attr("stroke-dasharray", "2.5,2.5");
  plot.selectAll("line.bnd").data(p.bounds).join("line")
    .attr("x1", d => x(dayDate(d))).attr("x2", d => x(dayDate(d)))
    .attr("y1", y(440)).attr("y2", y(-440))
    .attr("stroke", "#111").attr("stroke-width", 1.4).attr("stroke-dasharray", "5,2");

  // beta angle
  const line = d3.line().x(d => x(dayDate(d[0]))).y(d => yb(d[1])).curve(d3.curveMonotoneX);
  plot.append("path").datum(p.beta).attr("d", line)
    .attr("fill", "none").attr("stroke", "#d8262a").attr("stroke-width", 1.6);

  // frame
  g.append("rect").attr("width", W).attr("height", H)
    .attr("fill", "none").attr("stroke", "#333").attr("stroke-width", 1.5);

  // left axis
  const la = g.append("g").call(d3.axisLeft(y).tickValues(residualTicks).tickSize(0).tickPadding(8));
  la.select(".domain").remove();
  la.selectAll("text").attr("font-size", 13.5).attr("font-family", FONT).attr("fill", "#222");
  // right axis
  const ra = g.append("g").attr("transform", `translate(${W},0)`)
    .call(d3.axisRight(yb).tickValues(betaTicks).tickSize(0).tickPadding(8));
  ra.select(".domain").remove();
  ra.selectAll("text").attr("font-size", 13.5).attr("font-family", FONT).attr("fill", "#222");

  // quarter ticks
  const quarters = [];
  years.forEach(yr => [0,3,6,9].forEach(m => quarters.push(new Date(Date.UTC(yr, m, 1)))));
  const qa = g.append("g").attr("transform", `translate(0,${H})`)
    .call(d3.axisBottom(x).tickValues(quarters.slice(1)).tickSize(3).tickFormat(""));
  qa.select(".domain").remove();
  qa.selectAll("line").attr("stroke", "#333");

  // month labels, centred on each month
  const mids = [];
  years.forEach(yr => [0,3,6,9].forEach(m => mids.push(new Date(Date.UTC(yr, m, 15)))));
  const ma = g.append("g").attr("transform", `translate(0,${H})`)
    .call(d3.axisBottom(x).tickValues(mids).tickSize(0).tickPadding(8)
      .tickFormat(d => monthNames[d.getUTCMonth() / 3]));
  ma.select(".domain").remove();
  ma.selectAll("text").attr("font-size", 13).attr("font-family", FONT).attr("fill", "#222");

  // year labels, centred on the visible part of each year
  years.forEach(yr => {
    const a = Math.max(0, x(new Date(Date.UTC(yr,0,1))));
    const b = Math.min(W, x(new Date(Date.UTC(yr+1,0,1))));
    g.append("text").attr("x", (a + b) / 2).attr("y", H + 33)
      .attr("text-anchor", "middle").attr("font-size", 14).text(yr);
  });

  // axis titles
  svg.append("text")
    .attr("transform", `translate(${p.ylab},${p.y0 + H/2}) rotate(-90)`)
    .attr("text-anchor", "middle").attr("font-size", 16.5).text("SLR residuals /cm");
  svg.append("text")
    .attr("transform", `translate(${p.x0 + W + 57.5},${p.y0 + H/2 + 2}) rotate(-90)`)
    .attr("text-anchor", "middle").attr("font-size", 16).text("beta /(°)");

  // panel caption
  svg.append("text").attr("x", p.x0 + W/2).attr("y", p.tb)
    .attr("text-anchor", "middle").attr("font-size", 16.5).text(p.title);
});
</script>
</body></html>
